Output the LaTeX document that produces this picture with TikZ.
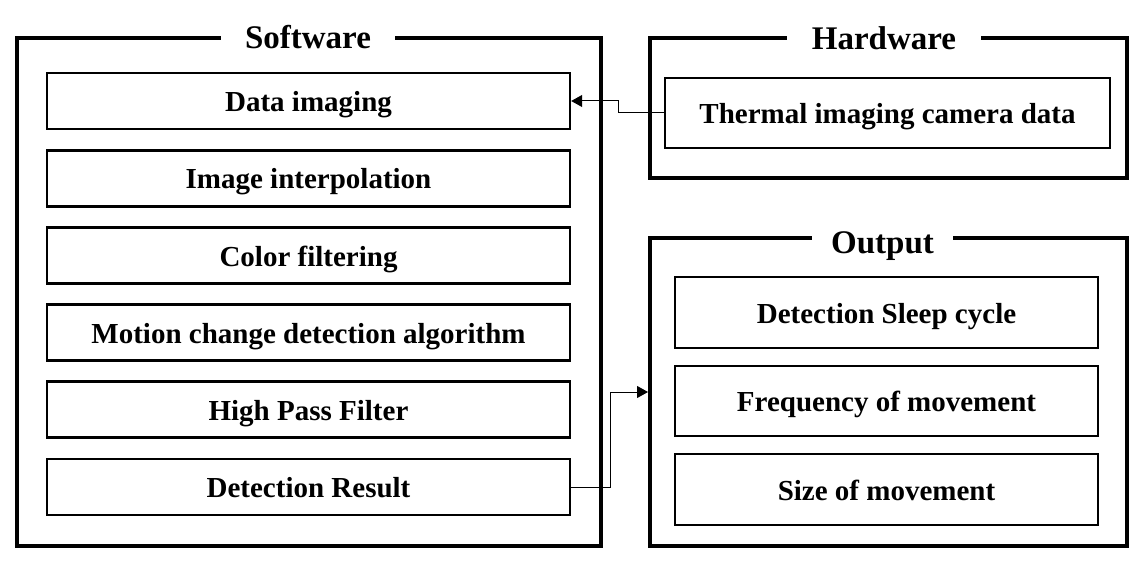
\documentclass[tikz,border=0pt]{standalone}
\usepackage{fontspec}
\setmainfont{Liberation Serif}
\usetikzlibrary{arrows.meta}
\begin{document}
\begin{tikzpicture}[x=1pt,y=-1pt,
  outerbox/.style={draw,line width=4pt,inner sep=0pt},
  innerbox/.style={draw,line width=2.4pt,inner sep=0pt,text height=21pt,text depth=0pt,font=\fontsize{29}{32}\selectfont\bfseries},
  titlelabel/.style={fill=white,inner xsep=24pt,inner ysep=6pt,text height=21pt,text depth=0pt,font=\fontsize{33}{36}\selectfont\bfseries},
  link/.style={line width=1pt,-{Triangle[length=11pt,width=12pt]}}]
\useasboundingbox (0,0) rectangle (1147,569);
% outer frames
\node[outerbox,minimum width=584pt,minimum height=508pt] (sw) at (309,292) {};
\node[outerbox,minimum width=477pt,minimum height=140pt] (hw) at (888.5,108) {};
\node[outerbox,minimum width=477pt,minimum height=308pt] (out) at (888.5,392) {};
\node[titlelabel] (swt) at (308,38) {Software};
\node[titlelabel,inner xsep=25pt] (hwt) at (884,39) {Hardware};
\node[titlelabel,inner xsep=19pt] (outt) at (882.5,243) {Output};
% software steps
\node[innerbox,minimum width=523pt,minimum height=56pt] (s1) at (308.5,101) {Data imaging};
\node[innerbox,minimum width=523pt,minimum height=56pt] (s2) at (308.5,178.5) {Image interpolation};
\node[innerbox,minimum width=523pt,minimum height=56pt] (s3) at (308.5,255.5) {Color filtering};
\node[innerbox,minimum width=523pt,minimum height=56pt] (s4) at (308.5,332.5) {Motion change detection algorithm};
\node[innerbox,minimum width=523pt,minimum height=56pt] (s5) at (308.5,409.5) {High Pass Filter};
\node[innerbox,minimum width=523pt,minimum height=56pt] (s6) at (308.5,487) {Detection Result};
% hardware
\node[innerbox,minimum width=445pt,minimum height=70pt] (h1) at (887.5,113) {Thermal imaging camera data};
% output
\node[innerbox,minimum width=423pt,minimum height=71pt] (o1) at (886.5,312.5) {Detection Sleep cycle};
\node[innerbox,minimum width=423pt,minimum height=70pt] (o2) at (886.5,401) {Frequency of movement};
\node[innerbox,minimum width=423pt,minimum height=71pt] (o3) at (886.5,489.5) {Size of movement};
% connectors
\coordinate (k1) at (618,113);
\coordinate (k2) at (618,101);
\draw[link] (h1.west) -- (k1) -- (k2) -- (s1.east);
\coordinate (k3) at (610,487);
\coordinate (k4) at (610,392);
\draw[link] (s6.east) -- (k3) -- (k4) -- (out.west |- k4);
\end{tikzpicture}
\end{document}
